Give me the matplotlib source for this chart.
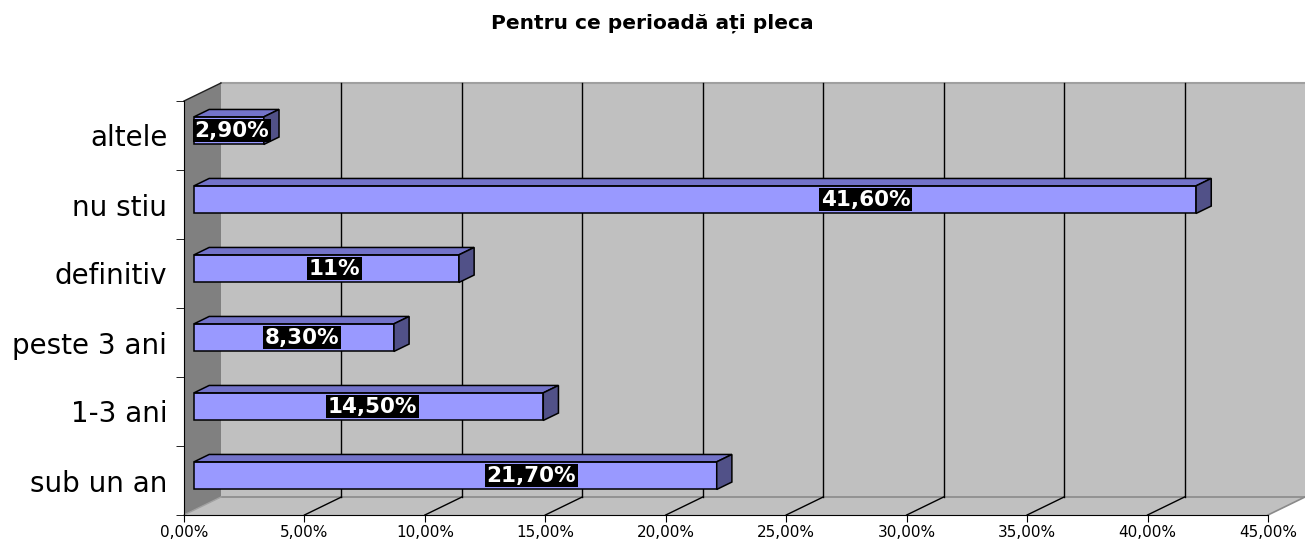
import numpy as np
import matplotlib
matplotlib.use("Agg")
import matplotlib.pyplot as plt
from matplotlib.patches import Polygon

# Data (bottom to top, as drawn)
categories = ["sub un an", "1-3 ani", "peste 3 ani", "definitiv", "nu stiu", "altele"]
values = [21.7, 14.5, 8.3, 11.0, 41.6, 2.9]
value_labels = ["21,70%", "14,50%", "8,30%", "11%", "41,60%", "2,90%"]
xticks = [0, 5, 10, 15, 20, 25, 30, 35, 40, 45]
xtick_labels = ["0,00%", "5,00%", "10,00%", "15,00%", "20,00%", "25,00%",
                "30,00%", "35,00%", "40,00%", "45,00%"]
title = "Pentru ce perioadă ați pleca"

# where Excel put the data labels along each bar (fraction of bar length)
label_frac = [0.645, 0.51, 0.54, 0.53, 0.67, 0.54]

W, H = 1305, 539
fig = plt.figure(figsize=(W / 100, H / 100), dpi=100)
ax = fig.add_axes([184 / W, 24 / H, 1084 / W, 414 / H])
ax.set_facecolor("none")
ax.set_xlim(0, 45)
ax.set_ylim(-0.5, 5.5)

# fake 3D depth, in data units
DX = 37 / (1084 / 45)
DY = 18 / 69.0
ybot, ytop, xmax = -0.5, 5.5, 45

wall = "#c0c0c0"
# back wall
ax.add_patch(Polygon([(DX, ybot + DY), (xmax + DX, ybot + DY), (xmax + DX, ytop + DY), (DX, ytop + DY)],
                     closed=True, fc=wall, ec="none", clip_on=False, zorder=0))
ax.plot([DX, xmax + DX], [ytop + DY, ytop + DY], color="#a0a0a0", lw=1.5, clip_on=False, zorder=1)
# floor
ax.add_patch(Polygon([(0, ybot), (xmax, ybot), (xmax + DX, ybot + DY), (DX, ybot + DY)],
                     closed=True, fc=wall, ec="none", clip_on=False, zorder=0))
ax.plot([DX, xmax + DX], [ybot + DY, ybot + DY], color="#8a8a8a", lw=1.2, clip_on=False, zorder=1)
ax.plot([xmax, xmax + DX], [ybot, ybot + DY], color="#8a8a8a", lw=1.2, clip_on=False, zorder=1)
# left wall
ax.add_patch(Polygon([(0, ybot), (DX, ybot + DY), (DX, ytop + DY), (0, ytop)],
                     closed=True, fc="#808080", ec="none", clip_on=False, zorder=0))
ax.plot([0, DX], [ytop, ytop + DY], color="#202020", lw=1, clip_on=False, zorder=1)
ax.plot([0, DX], [ybot, ybot + DY], color="#a0a0a0", lw=1, clip_on=False, zorder=1)

# gridlines on back wall and floor
for t in xticks[1:-1]:
    ax.plot([t + DX, t + DX], [ybot + DY, ytop + DY], color="black", lw=1, clip_on=False, zorder=1)
    ax.plot([t, t + DX], [ybot, ybot + DY], color="black", lw=1, clip_on=False, zorder=1)

# bars
f1, f2 = 0.27, 0.68
hh = 0.2
front_c, top_c, side_c = "#9999ff", "#7373c9", "#515188"
for i, v in enumerate(values):
    x1, x2 = f1 * DX, f2 * DX
    yc1, yc2 = i + f1 * DY, i + f2 * DY
    ax.add_patch(Polygon([(x1, yc1 - hh), (v + x1, yc1 - hh), (v + x1, yc1 + hh), (x1, yc1 + hh)],
                         fc=front_c, ec="black", lw=1.1, zorder=3, clip_on=False))
    ax.add_patch(Polygon([(x1, yc1 + hh), (v + x1, yc1 + hh), (v + x2, yc2 + hh), (x2, yc2 + hh)],
                         fc=top_c, ec="black", lw=1.1, zorder=3, clip_on=False))
    ax.add_patch(Polygon([(v + x1, yc1 - hh), (v + x1, yc1 + hh), (v + x2, yc2 + hh), (v + x2, yc2 - hh)],
                         fc=side_c, ec="black", lw=1.1, zorder=3, clip_on=False))
    ax.text(v * label_frac[i] + x1, yc1, value_labels[i], color="white", fontsize=15.5,
            fontweight="bold", ha="center", va="center", zorder=5,
            bbox=dict(boxstyle="square,pad=0.08", fc="black", ec="none"))

# axes
for s in ["top", "right"]:
    ax.spines[s].set_visible(False)
ax.spines["left"].set_color("black")
ax.spines["bottom"].set_color("black")
ax.spines["left"].set_zorder(2)
ax.spines["bottom"].set_zorder(2)
ax.set_xticks(xticks)
ax.set_xticklabels(xtick_labels, fontsize=11)
ax.tick_params(axis="x", length=5, pad=2, color="black")
ax.set_yticks(np.arange(len(categories)))
ax.set_yticklabels(categories, fontsize=20)
ax.set_yticks(np.arange(len(categories) + 1) - 0.5, minor=True)
ax.tick_params(axis="y", which="major", length=0, pad=12)
ax.tick_params(axis="y", which="minor", length=6, color="black")

fig.text(0.5, 1 - 23 / H, title, ha="center", va="center", fontsize=14.5, fontweight="bold")

fig.savefig("out.png", dpi=100)
